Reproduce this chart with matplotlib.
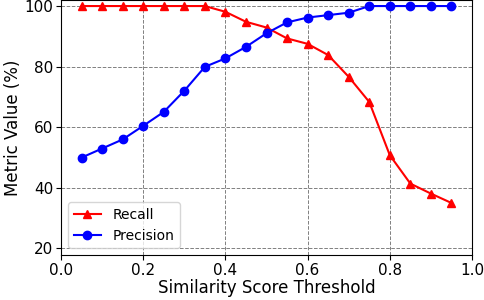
import matplotlib
matplotlib.use("Agg")
import matplotlib.pyplot as plt

thresholds = [0.05, 0.10, 0.15, 0.20, 0.25, 0.30, 0.35, 0.40, 0.45, 0.50,
              0.55, 0.60, 0.65, 0.70, 0.75, 0.80, 0.85, 0.90, 0.95]
recall = [100, 100, 100, 100, 100, 100, 100, 98.1, 94.8, 92.9,
          89.3, 87.5, 83.8, 76.6, 68.3, 50.7, 41.3, 38.0, 34.9]
precision = [49.9, 52.9, 55.9, 60.4, 65.0, 72.0, 79.9, 82.7, 86.5, 91.0,
             94.6, 96.2, 97.0, 97.8, 100, 100, 100, 100, 100]

fig = plt.figure(figsize=(4.84, 3.0), dpi=100)
ax = fig.add_axes([61/484, 45/300, (472-61)/484, 255/300])
ax.plot(thresholds, recall, color='red', marker='^', markersize=6, linewidth=1.5, label='Recall')
ax.plot(thresholds, precision, color='blue', marker='o', markersize=6, linewidth=1.5, label='Precision')
ax.set_xlim(0, 1.0)
ax.set_ylim(17.7, 102)
ax.set_xticks([0.0, 0.2, 0.4, 0.6, 0.8, 1.0])
ax.set_yticks([20, 40, 60, 80, 100])
ax.tick_params(labelsize=11, pad=2)
ax.set_xlabel('Similarity Score Threshold', fontsize=12, labelpad=1)
ax.set_ylabel('Metric Value (%)', fontsize=12, labelpad=2)
ax.grid(True, linestyle='--', color='gray', linewidth=0.7)
ax.legend(loc='lower left', fontsize=10)
fig.savefig('out.png', dpi=100)
